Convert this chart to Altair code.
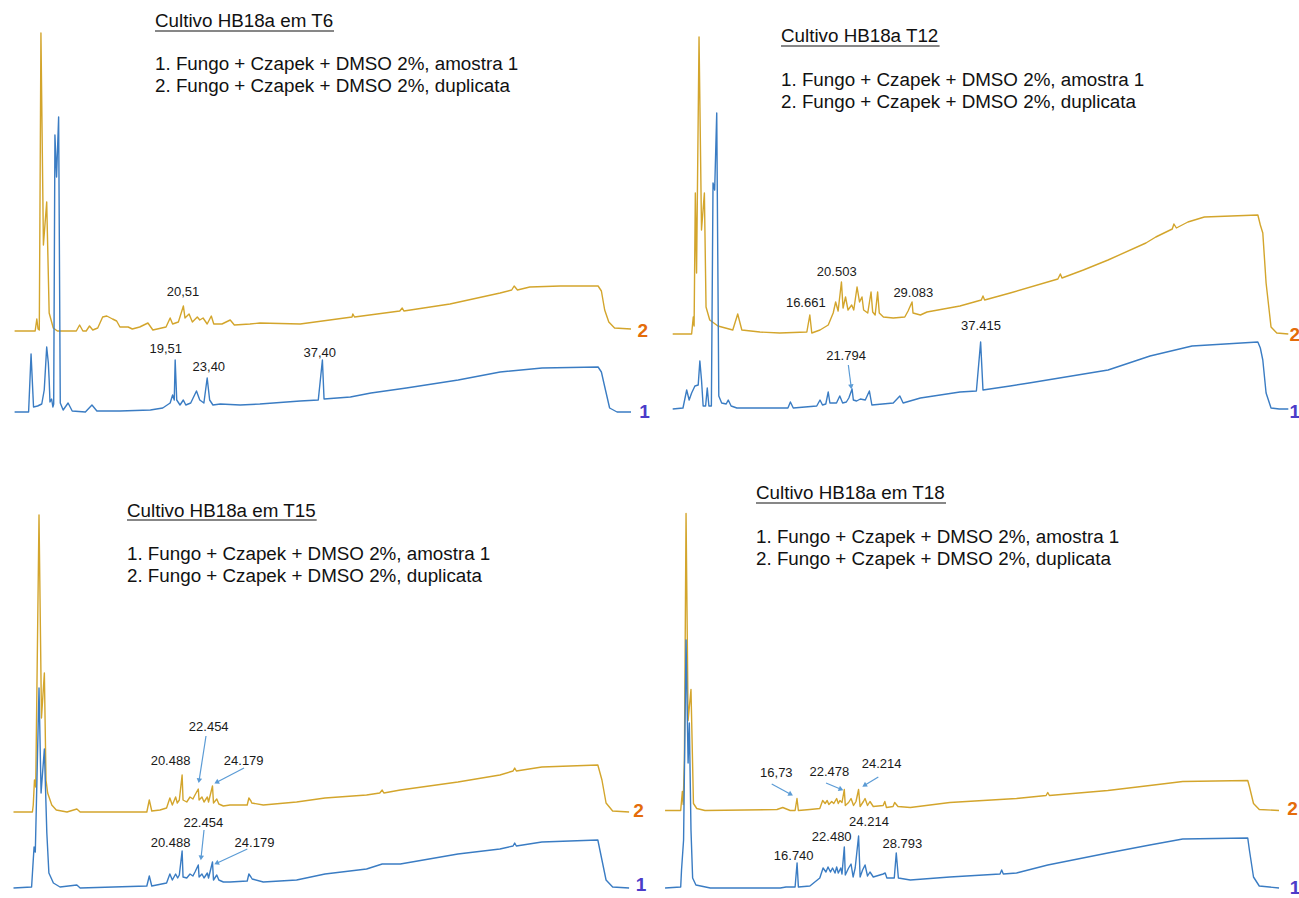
import math
import altair as alt
import pandas as pd

# ---------------- data ----------------
# retention time (min), signal (arbitrary units above each trace's own baseline)
TL_GOLD = [(0.0,0),(2.5,0),(2.7,12),(2.85,2),(3.0,1),(3.2,298),(3.5,86),(3.9,129),(4.2,18),(4.7,3),(5.2,0),(7.5,0),(7.9,6),(8.3,0),(8.7,0),(9.1,5),(9.5,1),(10.1,3),(10.7,14),(11.2,15),(11.9,12),(12.4,10),(12.8,4),(13.8,4),(14.3,2),(15.2,4),(16.2,8),(16.8,1),(18.4,4),(18.9,13),(19.2,7),(19.9,9),(20.51,25),(20.7,13),(21.2,17),(21.6,9),(22.2,14),(22.5,11),(22.9,13),(23.4,7),(23.9,15),(24.2,7),(25.2,7),(26.2,11),(26.7,6),(28.6,7),(29.8,8),(34.7,7),(41.0,14),(41.1,17),(41.3,14),(46.8,20),(47.1,23),(47.3,20),(52.9,27),(59.0,38),(60.4,41),(60.7,45),(61.1,41),(62.6,44),(66.3,45),(70.9,45),(71.3,40),(71.7,21),(72.2,9),(72.9,3),(74.9,2)]
TL_BLUE = [(0.0,0),(1.7,0),(2.0,58),(2.3,5),(2.8,6),(3.3,8),(3.6,22),(3.9,65),(4.1,49),(4.2,32),(4.3,10),(4.5,13),(4.65,5),(4.75,8),(4.9,277),(5.1,235),(5.35,295),(5.55,9),(5.9,2),(6.5,9),(7.0,1),(8.6,0),(9.4,7),(10.0,1),(12.8,1),(16.5,2),(18.0,4),(18.9,9),(19.2,17),(19.4,12),(19.51,52),(19.7,12),(20.1,7),(20.5,12),(20.8,7),(21.4,9),(22.1,21),(22.5,12),(23.0,9),(23.4,34),(23.7,12),(24.1,7),(25.0,8),(27.4,7),(29.8,8),(34.7,11),(36.9,12),(37.4,52),(37.6,13),(40.8,15),(43.3,19),(47.6,24),(53.9,32),(59.0,40),(64.1,44),(70.9,45),(71.3,40),(71.6,29),(72.3,4),(73.2,0),(74.9,0)]

TR_GOLD = [(0.0,0),(2.3,0),(2.5,17),(2.6,8),(2.75,141),(2.9,61),(3.2,297),(3.5,104),(3.85,141),(4.05,27),(4.5,14),(5.5,8),(7.3,4),(7.9,20),(8.4,4),(10.6,2),(13.0,1),(16.3,2),(16.661,19),(16.9,1),(17.9,4),(18.9,9),(19.5,21),(19.8,32),(20.1,23),(20.503,52),(20.7,26),(21.0,37),(21.3,24),(21.75,29),(22.0,24),(22.4,47),(22.7,32),(23.0,37),(23.2,24),(23.7,21),(24.1,42),(24.3,22),(24.6,19),(24.9,42),(25.1,21),(25.6,17),(26.8,16),(28.2,17),(28.6,23),(29.083,32),(29.2,21),(30.1,19),(30.9,22),(34.9,28),(37.5,34),(37.7,38),(37.9,34),(41.0,41),(46.8,55),(47.1,60),(47.3,56),(49.9,64),(52.9,74),(57.5,91),(58.7,97),(60.7,105),(60.9,110),(61.2,106),(62.6,112),(64.6,117),(71.1,119),(71.4,109),(71.7,101),(72.1,51),(72.7,7),(73.4,1),(74.8,0)]
TR_BLUE = [(0.0,0),(1.25,1),(1.7,19),(2.0,9),(2.3,16),(2.7,23),(3.1,24),(3.3,48),(3.5,29),(3.7,3),(4.0,3),(4.2,21),(4.4,3),(4.7,3),(4.9,226),(5.1,219),(5.35,296),(5.6,13),(5.95,6),(6.5,5),(6.75,9),(7.1,3),(7.8,1),(14.0,1),(14.3,7),(14.65,1),(17.5,3),(17.9,9),(18.2,4),(18.6,5),(18.9,17),(19.1,6),(19.9,6),(20.3,13),(20.65,6),(21.1,7),(21.4,11),(21.794,20),(21.95,9),(22.35,8),(22.8,10),(23.4,9),(23.9,18),(24.2,4),(26.8,6),(27.6,13),(28.0,6),(30.1,11),(34.9,17),(36.9,18),(37.415,67),(37.7,19),(41.0,23),(43.3,26),(52.9,39),(58.0,53),(63.1,63),(71.1,67),(71.4,61),(71.7,49),(72.1,16),(72.7,1),(73.7,0),(74.8,0)]

BL_GOLD = [(0.0,0),(2.3,0),(2.4,7),(2.55,32),(2.7,25),(3.1,297),(3.4,94),(3.75,139),(3.95,32),(4.15,19),(4.65,7),(5.2,2),(6.5,0),(7.7,3),(8.1,0),(16.2,0),(16.5,12),(16.8,1),(17.8,2),(18.6,4),(19.0,14),(19.3,7),(19.7,15),(19.9,9),(20.15,12),(20.488,37),(20.6,12),(21.05,10),(21.45,15),(21.8,13),(22.05,17),(22.454,23),(22.55,12),(22.9,15),(23.15,10),(23.55,15),(23.7,10),(24.179,26),(24.3,9),(24.7,13),(24.95,8),(25.5,6),(26.3,7),(28.4,7),(28.6,14),(28.85,11),(28.95,9),(30.35,7),(34.4,10),(37.85,14),(42.9,17),(44.5,19),(44.8,22),(45.0,19),(47.0,22),(54.0,30),(59.1,37),(60.7,41),(60.9,44),(61.1,41),(64.2,45),(71.0,47),(71.5,32),(72.0,9),(72.8,1),(74.8,0)]
BL_BLUE = [(0.0,0),(2.2,1),(2.4,28),(2.5,41),(2.65,36),(3.1,200),(3.35,95),(3.75,139),(4.05,55),(4.3,15),(4.85,5),(5.65,1),(7.7,3),(8.1,0),(16.2,2),(16.5,12),(16.8,2),(18.6,5),(19.0,14),(19.3,8),(19.7,14),(19.95,10),(20.15,13),(20.488,37),(20.6,11),(21.05,10),(21.45,14),(21.8,12),(22.05,16),(22.454,23),(22.55,11),(22.9,14),(23.15,10),(23.55,15),(23.7,10),(24.179,26),(24.3,8),(24.7,13),(24.95,8),(25.5,6),(26.3,6),(28.4,7),(28.6,14),(28.85,11),(29.0,9),(30.35,6),(34.4,8),(37.85,14),(42.9,19),(44.8,24),(47.0,24),(54.0,34),(59.1,39),(60.7,42),(60.9,45),(61.1,42),(64.2,46),(71.0,48),(71.5,28),(72.0,8),(72.8,1),(74.8,0)]

BR_GOLD = [(0.7,0),(2.6,0),(2.8,19),(2.9,6),(3.05,50),(3.25,297),(3.5,90),(3.85,121),(4.15,7),(4.55,2),(5.55,0),(14.3,1),(15.0,3),(15.9,0),(16.5,0),(16.73,12),(16.9,0),(18.3,1),(19.5,2),(19.85,10),(20.15,7),(20.4,10),(20.6,6),(20.95,9),(21.2,7),(21.55,12),(21.75,7),(21.95,10),(22.2,8),(22.478,21),(22.6,5),(23.0,8),(23.3,12),(23.6,5),(23.9,9),(24.214,21),(24.4,4),(24.8,9),(25.0,12),(25.3,5),(25.6,9),(26.0,4),(27.2,5),(27.4,9),(27.6,3),(28.4,4),(28.6,8),(29.0,4),(30.5,3),(35.3,8),(43.4,12),(47.0,15),(47.2,18),(47.4,15),(54.5,20),(59.6,25),(63.6,29),(71.5,30),(71.7,24),(72.2,7),(72.9,1),(75.3,0)]
BR_BLUE = [(0.7,0),(2.6,1),(2.7,18),(2.95,48),(3.25,248),(3.5,125),(3.65,165),(3.85,58),(4.05,10),(4.45,3),(6.2,0),(14.7,0),(15.4,1),(16.5,1),(16.74,25),(16.9,1),(18.3,2),(19.5,10),(19.9,20),(20.25,16),(20.5,21),(20.8,16),(21.05,20),(21.35,15),(21.55,21),(21.75,15),(22.05,20),(22.2,14),(22.48,41),(22.6,13),(23.0,20),(23.3,24),(23.55,11),(23.8,20),(24.214,52),(24.4,11),(24.7,18),(25.0,23),(25.3,12),(25.6,16),(26.0,11),(27.2,14),(27.45,15),(27.65,10),(28.55,10),(28.793,35),(29.05,10),(30.5,8),(35.3,11),(41.4,14),(41.6,18),(41.8,14),(43.4,15),(47.2,23),(54.5,35),(59.6,43),(63.6,49),(71.5,50),(71.7,38),(72.2,11),(72.9,2),(75.3,0)]

# stacking offsets of the overlaid traces (arbitrary units)
OFFSETS = {
    "T6":  {"2": 118, "1": 37},
    "T12": {"2": 115, "1": 40},
    "T15": {"2": 86,  "1": 10},
    "T18": {"2": 87.5, "1": 10},
}

TRACES = {
    "T6": (TL_GOLD, TL_BLUE),
    "T12": (TR_GOLD, TR_BLUE),
    "T15": (BL_GOLD, BL_BLUE),
    "T18": (BR_GOLD, BR_BLUE),
}

# peak labels: text, retention time, height
PEAK_LABELS = {
    "T6": [("20,51", 20.46, 157), ("19,51", 18.37, 100), ("23,40", 23.6, 82), ("37,40", 37.07, 96)],
    "T12": [("16.661", 16.17, 146), ("20.503", 19.93, 177), ("29.083", 29.23, 156), ("37.415", 37.46, 123), ("21.794", 21.06, 93)],
    "T15": [("22.454", 23.72, 171), ("20.488", 19.08, 137), ("24.179", 27.97, 137),
            ("22.454", 23.06, 75), ("20.488", 19.08, 55), ("24.179", 29.28, 55)],
    "T18": [("16,73", 14.22, 125), ("22.478", 20.66, 126), ("24.214", 27.02, 134),
            ("24.214", 25.48, 76), ("22.480", 20.95, 61), ("16.740", 16.33, 42), ("28.793", 29.53, 54)],
}

# arrows: from (t, v) to (t2, v2)
ARROWS = {
    "T6": [],
    "T12": [(21.34, 84, 21.67, 63)],
    "T15": [(23.39, 162, 22.56, 118), (28.01, 130, 24.75, 116), (23.15, 68, 22.8, 41), (28.41, 49, 24.75, 35)],
    "T18": [(13.66, 114, 15.9, 104), (20.26, 115, 22.0, 109), (26.61, 121, 25.0, 113)],
}

TITLES = {
    "T6": "Cultivo HB18a em T6",
    "T12": "Cultivo HB18a T12",
    "T15": "Cultivo HB18a em T15",
    "T18": "Cultivo HB18a em T18",
}
LEGEND_LINES = ["1. Fungo + Czapek + DMSO 2%, amostra 1", "2. Fungo + Czapek + DMSO 2%, duplicata"]

# title block anchor: left time, title height, underline end time, underline height, legend heights
TITLE_POS = {
    "T6":  (17.06, 428, 38.81, 418, 385, 363),
    "T12": (13.16, 413, 32.43, 403, 369, 347),
    "T15": (13.79, 387, 36.84, 378, 344, 322),
    "T18": (11.75, 405, 34.84, 395, 361, 339),
}

# trace-number labels at the right end: (text, t, v)
TRACE_TAGS = {
    "T6":  [("2", 75.7, 118), ("1", 75.9, 37)],
    "T12": [("2", 74.95, 114), ("1", 74.95, 37)],
    "T15": [("2", 75.3, 87), ("1", 75.6, 13)],
    "T18": [("2", 76.3, 89), ("1", 76.6, 10)],
}

X_DOMAIN = {
    "T6": [-1.774, 77.206],
    "T12": [-2.758, 76.099],
    "T15": [-1.640, 77.339],
    "T18": [-1.130, 77.728],
}
Y_DOMAIN = [0, 449]

GOLD = "#D3A52C"
BLUE = "#3A7CC3"
ARROW = "#5B9BD5"
TAG_COLORS = {"2": "#E46C0A", "1": "#4B3CC9"}
FONT = "Liberation Sans"


def panel(key, width, height):
    xs = alt.Scale(domain=X_DOMAIN[key], nice=False, zero=False)
    ys = alt.Scale(domain=Y_DOMAIN, nice=False, zero=False)

    def X(f):
        return alt.X(f, type="quantitative", scale=xs, axis=None)

    def Y(f):
        return alt.Y(f, type="quantitative", scale=ys, axis=None)

    gold, blue = TRACES[key]
    layers = []
    for trace, pts, col in (("2", gold, GOLD), ("1", blue, BLUE)):
        off = OFFSETS[key][trace]
        df = pd.DataFrame({"t": [p[0] for p in pts],
                           "v": [p[1] + off for p in pts],
                           "i": list(range(len(pts)))})
        layers.append(alt.Chart(df).mark_line(color=col, strokeWidth=1.4, clip=True,
                                              strokeJoin="round")
                      .encode(x=X("t"), y=Y("v"), order="i:Q"))

    lab = pd.DataFrame(PEAK_LABELS[key], columns=["label", "t", "v"])
    layers.append(alt.Chart(lab).mark_text(fontSize=13, font=FONT, color="#1a1a1a")
                  .encode(x=X("t"), y=Y("v"), text="label:N"))

    if ARROWS[key]:
        kx = width / (X_DOMAIN[key][1] - X_DOMAIN[key][0])
        ky = height / (Y_DOMAIN[1] - Y_DOMAIN[0])
        rows = []
        for t1, v1, t2, v2 in ARROWS[key]:
            dx = (t2 - t1) * kx
            dy = -(v2 - v1) * ky
            ang = math.degrees(math.atan2(dx, -dy)) % 360
            rows.append({"t": t1, "v": v1, "t2": t2, "v2": v2, "ang": ang})
        ar = pd.DataFrame(rows)
        layers.append(alt.Chart(ar).mark_rule(color=ARROW, strokeWidth=1.2)
                      .encode(x=X("t"), y=Y("v"), x2="t2:Q", y2="v2:Q"))
        layers.append(alt.Chart(ar).mark_point(shape="triangle", filled=True, size=30,
                                               color=ARROW, opacity=1)
                      .encode(x=X("t2"), y=Y("v2"), angle=alt.Angle("ang:Q", scale=None)))

    tl, tv, tend, uv, l1, l2 = TITLE_POS[key]
    tdf = pd.DataFrame({"label": [TITLES[key], LEGEND_LINES[0], LEGEND_LINES[1]],
                        "t": [tl, tl, tl], "v": [tv, l1, l2]})
    layers.append(alt.Chart(tdf).mark_text(align="left", fontSize=18.8, font=FONT, color="#111111")
                  .encode(x=X("t"), y=Y("v"), text="label:N"))
    udf = pd.DataFrame({"t": [tl], "t2": [tend], "v": [uv]})
    layers.append(alt.Chart(udf).mark_rule(color="#111111", strokeWidth=1.2)
                  .encode(x=X("t"), x2="t2:Q", y=Y("v")))

    tags = pd.DataFrame(TRACE_TAGS[key], columns=["label", "t", "v"])
    layers.append(alt.Chart(tags).mark_text(align="left", fontSize=19, font=FONT,
                                            fontWeight="bold", clip=True)
                  .encode(x=X("t"), y=Y("v"), text="label:N",
                          color=alt.Color("label:N",
                                          scale=alt.Scale(domain=["2", "1"],
                                                          range=[TAG_COLORS["2"], TAG_COLORS["1"]]),
                                          legend=None)))

    return alt.layer(*layers).properties(width=width, height=height)


top = alt.hconcat(panel("T6", 650, 449), panel("T12", 649, 449), spacing=0, bounds="flush")
bottom = alt.hconcat(panel("T15", 650, 449), panel("T18", 649, 449), spacing=0, bounds="flush")
chart = (alt.vconcat(top, bottom, spacing=0)
         .properties(padding=0, background="white")
         .configure(font=FONT)
         .configure_view(stroke=None, strokeWidth=0))

chart.save("out.html", embed_options={"renderer": "svg", "actions": False})
